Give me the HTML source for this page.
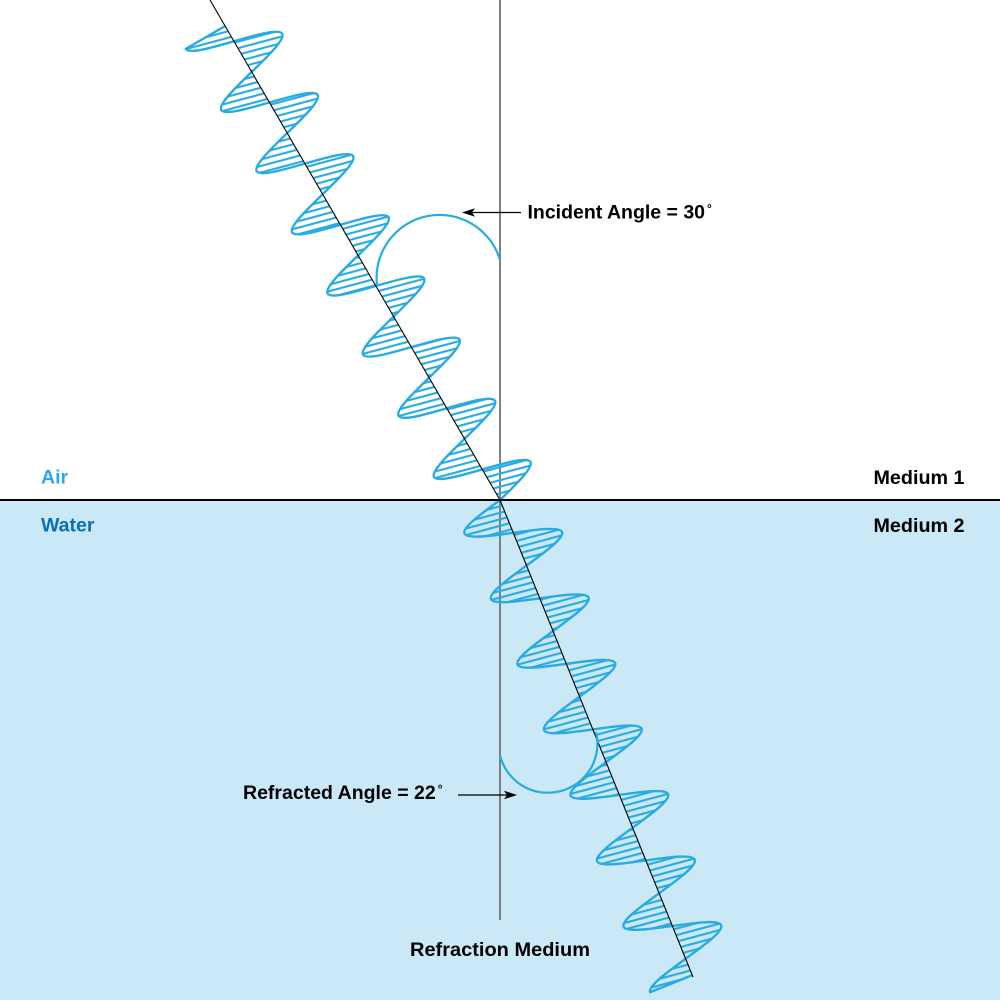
<!DOCTYPE html>
<html>
<head>
<meta charset="utf-8">
<style>
  html, body { margin: 0; padding: 0; background: #ffffff; }
  svg { display: block; }
  text { font-family: "Liberation Sans", Arial, sans-serif; font-weight: bold; font-size: 19.5px; }
</style>
</head>
<body>
<svg width="1000" height="1000" viewBox="0 0 1000 1000" xmlns="http://www.w3.org/2000/svg">
  <defs>
    <pattern id="hatch" patternUnits="userSpaceOnUse" width="20" height="6.3" patternTransform="rotate(-15)">
      <rect x="0" y="0" width="20" height="2.1" fill="#29abe2"/>
    </pattern>
    <clipPath id="clipInc">
      <path transform="translate(225.10,26.04) rotate(59.89)" d="M0,0 L0,45.5
        c12.5,0 22.85,-91 35.35,-91 c12.5,0 22.85,91 35.35,91
        c12.5,0 22.85,-91 35.35,-91 c12.5,0 22.85,91 35.35,91
        c12.5,0 22.85,-91 35.35,-91 c12.5,0 22.85,91 35.35,91
        c12.5,0 22.85,-91 35.35,-91 c12.5,0 22.85,91 35.35,91
        c12.5,0 22.85,-91 35.35,-91 c12.5,0 22.85,91 35.35,91
        c12.5,0 22.85,-91 35.35,-91 c12.5,0 22.85,91 35.35,91
        c12.5,0 22.85,-91 35.35,-91 c12.5,0 22.85,91 35.35,91
        c12.5,0 22.85,-91 35.35,-91
        c6.25,0 11.96,22.75 17.675,45.5 Z"/>
    </clipPath>
    <clipPath id="clipRef">
      <path transform="translate(500,500) rotate(67.97)" d="M0,0
        c5.71,22.75 11.425,45.5 17.675,45.5
        c12.5,0 22.85,-91 35.35,-91 c12.5,0 22.85,91 35.35,91
        c12.5,0 22.85,-91 35.35,-91 c12.5,0 22.85,91 35.35,91
        c12.5,0 22.85,-91 35.35,-91 c12.5,0 22.85,91 35.35,91
        c12.5,0 22.85,-91 35.35,-91 c12.5,0 22.85,91 35.35,91
        c12.5,0 22.85,-91 35.35,-91 c12.5,0 22.85,91 35.35,91
        c12.5,0 22.85,-91 35.35,-91 c12.5,0 22.85,91 35.35,91
        c12.5,0 22.85,-91 35.35,-91 c12.5,0 22.85,91 35.35,91
        L512.6,0 Z"/>
    </clipPath>
  </defs>

  <!-- backgrounds -->
  <rect x="0" y="0" width="1000" height="500" fill="#ffffff"/>
  <rect x="0" y="500" width="1000" height="500" fill="#cae8f6"/>

  <!-- normal line -->
  <line x1="500" y1="0" x2="500" y2="920" stroke="#6f7478" stroke-width="1.8"/>

  <!-- hatch fills -->
  <rect x="0" y="0" width="1000" height="1000" fill="url(#hatch)" clip-path="url(#clipInc)"/>
  <rect x="0" y="0" width="1000" height="1000" fill="url(#hatch)" clip-path="url(#clipRef)"/>

  <!-- wave outlines -->
  <path transform="translate(225.10,26.04) rotate(59.89)" fill="none" stroke="#29abe2" stroke-width="2.4" stroke-linejoin="round" d="M0,0 L0,45.5
        c12.5,0 22.85,-91 35.35,-91 c12.5,0 22.85,91 35.35,91
        c12.5,0 22.85,-91 35.35,-91 c12.5,0 22.85,91 35.35,91
        c12.5,0 22.85,-91 35.35,-91 c12.5,0 22.85,91 35.35,91
        c12.5,0 22.85,-91 35.35,-91 c12.5,0 22.85,91 35.35,91
        c12.5,0 22.85,-91 35.35,-91 c12.5,0 22.85,91 35.35,91
        c12.5,0 22.85,-91 35.35,-91 c12.5,0 22.85,91 35.35,91
        c12.5,0 22.85,-91 35.35,-91 c12.5,0 22.85,91 35.35,91
        c12.5,0 22.85,-91 35.35,-91
        c6.25,0 11.96,22.75 17.675,45.5"/>
  <path transform="translate(500,500) rotate(67.97)" fill="none" stroke="#29abe2" stroke-width="2.4" stroke-linejoin="round" d="M0,0
        c5.71,22.75 11.425,45.5 17.675,45.5
        c12.5,0 22.85,-91 35.35,-91 c12.5,0 22.85,91 35.35,91
        c12.5,0 22.85,-91 35.35,-91 c12.5,0 22.85,91 35.35,91
        c12.5,0 22.85,-91 35.35,-91 c12.5,0 22.85,91 35.35,91
        c12.5,0 22.85,-91 35.35,-91 c12.5,0 22.85,91 35.35,91
        c12.5,0 22.85,-91 35.35,-91 c12.5,0 22.85,91 35.35,91
        c12.5,0 22.85,-91 35.35,-91 c12.5,0 22.85,91 35.35,91
        c12.5,0 22.85,-91 35.35,-91 c12.5,0 22.85,91 35.35,91
        L512.6,0"/>

  <!-- interface line -->
  <line x1="0" y1="500" x2="1000" y2="500" stroke="#000000" stroke-width="2"/>

  <!-- rays -->
  <line x1="210" y1="0" x2="500" y2="500" stroke="#000000" stroke-width="1.1"/>
  <line x1="500" y1="500" x2="693" y2="977" stroke="#000000" stroke-width="1.1"/>

  <!-- angle arcs -->
  <path d="M500,260 A63,63 0 0 0 377,285" fill="none" stroke="#29abe2" stroke-width="2.2"/>
  <path d="M500,755 A49,49 0 0 0 548,792.7 A49,49 0 0 0 596,732" fill="none" stroke="#29abe2" stroke-width="2.2"/>

  <!-- arrows -->
  <line x1="521" y1="212.5" x2="472" y2="212.5" stroke="#000000" stroke-width="1.2"/>
  <polygon points="462,212.5 475,208.2 472,212.5 475,216.8" fill="#000000"/>
  <line x1="458" y1="795" x2="507" y2="795" stroke="#000000" stroke-width="1.2"/>
  <polygon points="517,795 504,790.7 507,795 504,799.3" fill="#000000"/>

  <!-- labels -->
  <text x="527.5" y="218.5" fill="#000000">Incident Angle = 30<tspan font-size="12" dx="2" dy="-6">°</tspan></text>
  <text x="243" y="799" fill="#000000">Refracted Angle = 22<tspan font-size="12" dx="2" dy="-6">°</tspan></text>
  <text x="41" y="483.5" fill="#29abe2">Air</text>
  <text x="41" y="531.5" fill="#0b6fb8">Water</text>
  <text x="873.5" y="484" fill="#000000" textLength="91" lengthAdjust="spacingAndGlyphs">Medium 1</text>
  <text x="873.5" y="532" fill="#000000" textLength="91" lengthAdjust="spacingAndGlyphs">Medium 2</text>
  <text x="410" y="956" fill="#000000" textLength="180" lengthAdjust="spacingAndGlyphs">Refraction Medium</text>
</svg>
</body>
</html>
